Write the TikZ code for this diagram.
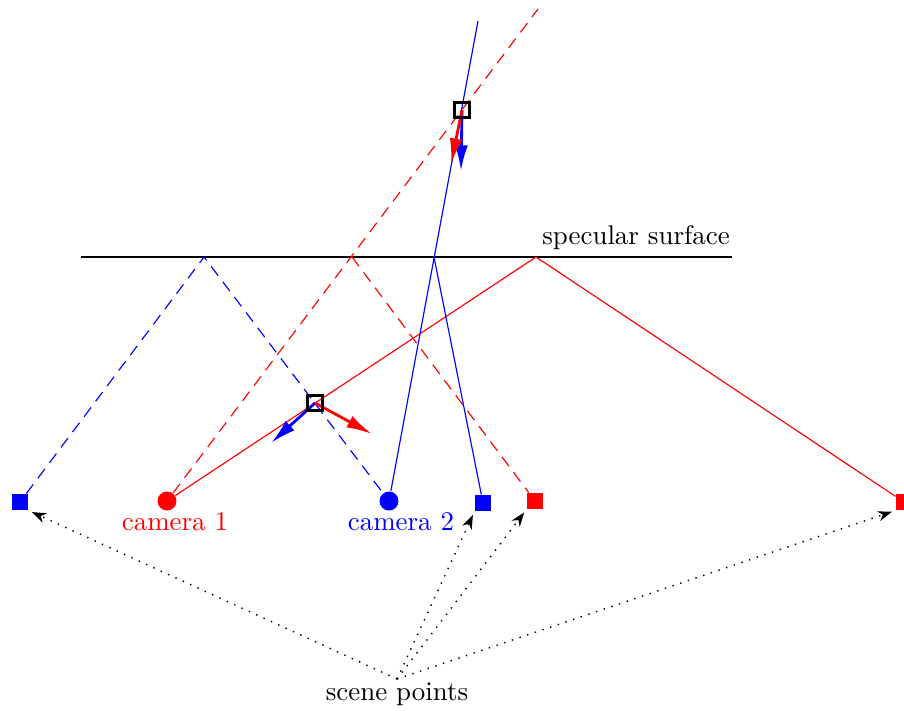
\documentclass[tikz,border=0pt]{standalone}
\usetikzlibrary{arrows.meta}
\begin{document}
\begin{tikzpicture}[x=0.39pt,y=-0.39pt,
  thinline/.style={line width=0.45pt},
  dashline/.style={line width=0.45pt,dash pattern=on 4.5pt off 3pt},
  cam/.style={circle,fill,inner sep=0pt,minimum size=7.4pt},
  pt/.style={rectangle,fill,inner sep=0pt,minimum size=6.2pt},
  isect/.style={rectangle,draw=black,line width=1pt,inner sep=0pt,minimum size=5.8pt},
  vec/.style={line width=1.1pt,-{Latex[length=10pt,width=5pt]}},
  lbl/.style={inner sep=1pt,font=\fontsize{10.5}{12}\selectfont},
  pointer/.style={line width=0.55pt,dash pattern=on 0.55pt off 2.6pt,shorten >=1.5pt,-{Stealth[length=5.5pt,width=4pt]}}]
\useasboundingbox (0,0) rectangle (904,710);

% surface
\coordinate (s1) at (81,257);
\coordinate (s2) at (732,257);
\draw[line width=0.9pt] (s1) -- (s2);
\node[lbl,anchor=base] (surf) at (636,244) {specular surface};

% reflection points
\coordinate (rb) at (204,257);
\coordinate (rr) at (352,257);
\coordinate (rB) at (434,257);
\coordinate (rR) at (536,257);
\coordinate (topR) at (538,9);
\coordinate (topB) at (478,21);

% cameras
\node[cam,red] (c1) at (167,501) {};
\node[cam,blue] (c2) at (389,501) {};
\node[lbl,red,anchor=base] (c1l) at (175,530) {camera 1};
\node[lbl,blue,anchor=base] (c2l) at (401,530) {camera 2};

% scene points
\node[pt,blue] (pb1) at (20,502) {};
\node[pt,blue] (pb2) at (483,503) {};
\node[pt,red] (pr1) at (535,501) {};
\node[pt,red] (pr2) at (904,502) {};

% rays
\draw[dashline,blue] (pb1) -- (rb) -- (c2);
\draw[thinline,red] (c1) -- (rR) -- (pr2);
\draw[dashline,red] (c1) -- (topR);
\draw[dashline,red] (rr) -- (pr1);
\draw[thinline,blue] (c2) -- (topB);
\draw[thinline,blue] (rB) -- (pb2);

% intersections
\node[isect] (i1) at (315,403) {};
\node[isect] (i2) at (462,110) {};
\coordinate (a1) at (271,443);
\coordinate (a2) at (372,434);
\coordinate (a3) at (451,164);
\coordinate (a4) at (461,171);
\draw[vec,blue] (i1.center) -- (a1);
\draw[vec,red] (i1.center) -- (a2);
\draw[vec,blue] (i2.center) -- (a4);
\draw[vec,red] (i2.center) -- (a3);
\node[isect] at (i1) {};
\node[isect] at (i2) {};

% scene points label
\node[lbl,anchor=base] (sp) at (397,700) {scene points};
\coordinate (o) at (397,679);
\draw[pointer] (o) -- (pb1.south east);
\draw[pointer] (o) -- (pb2.south west);
\draw[pointer] (o) -- (pr1.south west);
\draw[pointer] (o) -- (pr2.south west);
\end{tikzpicture}
\end{document}
